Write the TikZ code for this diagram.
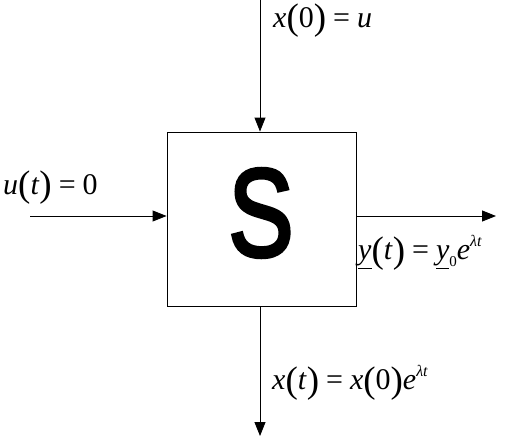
\documentclass[tikz,border=0pt]{standalone}
\usepackage{fontspec}
\setmainfont{Liberation Serif}
\newfontfamily\sfbig[FakeBold=3.2]{Liberation Sans}
\usetikzlibrary{arrows.meta}
\newcommand{\vi}[1]{\textit{#1}}
\newcommand{\pl}{{\fontsize{37}{37}\selectfont\raisebox{-2.5pt}{(}}}
\newcommand{\pr}{{\fontsize{37}{37}\selectfont\raisebox{-2.5pt}{)}}}
\newcommand{\eq}{\hspace{7pt}=\hspace{7pt}}
\tikzset{
  conn/.style={draw=black, line width=0.9pt, -{Triangle[length=14pt,width=11pt]}},
  lbl/.style={anchor=west, inner sep=0pt, font=\fontsize{30}{32}\selectfont},
  sysbox/.style={draw=black, line width=0.9pt, minimum width=189pt, minimum height=174pt, inner sep=0pt}
}
\begin{document}
\begin{tikzpicture}[x=1pt,y=-1pt]
\useasboundingbox (0,0) rectangle (513,436);
\node[sysbox] (S) at (261.5,219) {};
\node (Sletter) at (261,213) {\scalebox{0.78}[1]{\sfbig\fontsize{125}{125}\selectfont S}};
\coordinate (top) at (260,0);
\coordinate (left) at (30,216);
\coordinate (right) at (496,216);
\coordinate (bottom) at (260,436);
\draw[conn] (top) -- (top |- S.north);
\draw[conn] (left) -- (left -| S.west);
\draw[conn] (right -| S.east) -- (right);
\draw[conn] (bottom |- S.south) -- (bottom);
\node[lbl] (l1) at (273,21) {\vi{x}\pl0\pr\eq\vi{u}};
\node[lbl] (l2) at (3,188) {\vi{u}\pl\vi{t}\pr\eq0};
\node[lbl] (l3) at (358,253) {\underline{\vi{y}}\pl\vi{t}\pr\eq\underline{\vi{y}}\raisebox{-7pt}{\fontsize{15}{15}\selectfont 0}\vi{e}\raisebox{13pt}{\fontsize{16}{16}\selectfont\vi{λt}}};
\node[lbl] (l4) at (272,383) {\vi{x}\pl\vi{t}\pr\eq\vi{x}\pl0\pr\vi{e}\raisebox{13pt}{\fontsize{16}{16}\selectfont\vi{λt}}};
\end{tikzpicture}
\end{document}
